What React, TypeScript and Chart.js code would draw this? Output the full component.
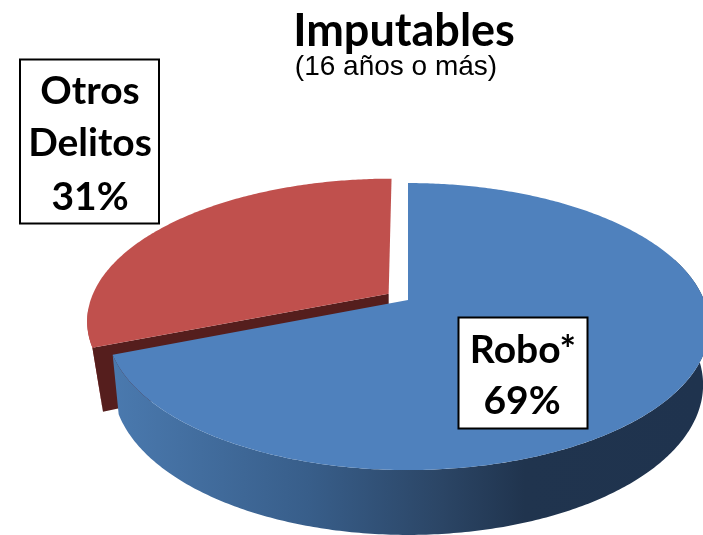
import React, { useEffect, useRef } from "react";
import { Chart, registerables } from "chart.js";

Chart.register(...registerables);

const categories = ["Robo*", "Otros Delitos"];
const shares = [69, 31];
const sliceColors = ["#4f81bd", "#c0504d"];
const titleText = "Imputables";
const subtitleText = "(16 años o más)";

const BOLD = '"Lato", sans-serif';
const SANS = '"Liberation Sans", Arial, sans-serif';

// Perspective view of the disc: top face and bottom face of the drum
const view = {
  cx: 408,
  p: 0.185,
  top: { y0: 300, a: 138.6, b: 296 },
  bottom: { y0: 357, a: 145, b: 290 },
  redTop: { y0: 300, a: 138.6, b: 298 },
  redBottom: { y0: 362, a: 145, b: 288 },
};

type Face = { y0: number; a: number; b: number };

function project(theta: number, r: number, face: Face, ou: number, ov: number) {
  const u = Math.sin(theta) * r + ou;
  const v = -Math.cos(theta) * r + ov;
  const w = 1 / (1 - view.p * v);
  return { x: view.cx + face.b * u * w, y: face.y0 + face.a * v * w };
}

const rad = (deg: number) => (deg * Math.PI) / 180;

const pie3d = {
  id: "pie3d",
  beforeDatasetsDraw(chart: any) {
    const { ctx } = chart;
    const arcs = chart.getDatasetMeta(0).data;
    const parts = arcs.map((arc: any) => {
      const s = arc.startAngle + Math.PI / 2;
      const e = arc.endAngle + Math.PI / 2;
      const mid = (s + e) / 2;
      const k = (arc.options.offset || 0) / arc.outerRadius;
      return { s, e, ou: Math.sin(mid) * k, ov: -Math.cos(mid) * k, color: arc.options.backgroundColor };
    });
    const edge = (from: number, to: number, face: Face, ou: number, ov: number) => {
      const n = Math.max(2, Math.round(Math.abs(to - from) * 90));
      const pts = [];
      for (let i = 0; i <= n; i++) pts.push(project(from + ((to - from) * i) / n, 1, face, ou, ov));
      return pts;
    };
    const fillPoly = (pts: { x: number; y: number }[], fill: any) => {
      ctx.beginPath();
      pts.forEach((q, i) => (i ? ctx.lineTo(q.x, q.y) : ctx.moveTo(q.x, q.y)));
      ctx.closePath();
      ctx.fillStyle = fill;
      ctx.fill();
    };
    ctx.save();
    const [blue, red] = parts;

    // Exploded slice first: outer wall sliver, cut face, top
    const redWallEnd = rad(264);
    fillPoly(
      [...edge(red.s, redWallEnd, view.redTop, red.ou, red.ov), project(red.s, 1, view.redBottom, red.ou, red.ov)],
      "#ab4543"
    );
    fillPoly(
      [
        project(0, 0, view.top, red.ou, red.ov),
        project(red.s, 1, view.redTop, red.ou, red.ov),
        project(red.s, 1, view.redBottom, red.ou, red.ov),
        project(0, 0, view.bottom, red.ou, red.ov),
      ],
      "#551e1d"
    );
    fillPoly([project(0, 0, view.top, red.ou, red.ov), ...edge(red.s, red.e, view.redTop, red.ou, red.ov)], red.color);

    // Main slice: wall with a left-to-right shade, then top
    const shade = ctx.createLinearGradient(115, 0, 700, 0);
    shade.addColorStop(0, "#4a79ae");
    shade.addColorStop(0.33, "#385e8a");
    shade.addColorStop(0.56, "#2b4565");
    shade.addColorStop(0.7, "#20344e");
    shade.addColorStop(1, "#1f334e");
    const blueWallStart = rad(72);
    fillPoly(
      [...edge(blueWallStart, blue.e, view.top, blue.ou, blue.ov), ...edge(blue.e, blueWallStart, view.bottom, blue.ou, blue.ov)],
      shade
    );
    fillPoly([project(0, 0, view.top, blue.ou, blue.ov), ...edge(blue.s, blue.e, view.top, blue.ou, blue.ov)], blue.color);
    ctx.restore();
    return false;
  },
  afterDraw(chart: any) {
    const { ctx } = chart;
    const box = (x: number, y: number, w: number, h: number) => {
      ctx.fillStyle = "#ffffff";
      ctx.strokeStyle = "#000000";
      ctx.lineWidth = 2;
      ctx.fillRect(x, y, w, h);
      ctx.strokeRect(x, y, w, h);
    };
    ctx.save();
    ctx.textAlign = "center";
    ctx.textBaseline = "middle";
    ctx.fillStyle = "#000000";
    ctx.font = `bold 45px ${BOLD}`;
    ctx.fillText(titleText, 404, 31);
    ctx.font = `28px ${SANS}`;
    ctx.fillText(subtitleText, 396, 67);

    box(20, 59.5, 139, 164);
    box(458.5, 317.5, 129, 111);

    ctx.fillStyle = "#000000";
    ctx.font = `bold 39px ${BOLD}`;
    const [robo, otros] = categories;
    const [first, second] = otros.split(" ");
    ctx.fillText(first, 90, 91);
    ctx.fillText(second, 90, 143);
    ctx.fillText(`${shares[1]}%`, 90, 197);
    ctx.fillText(robo, 523, 350);
    ctx.fillText(`${shares[0]}%`, 522, 401);
    ctx.restore();
  },
};

export default function App() {
  const ref = useRef<HTMLCanvasElement>(null);
  useEffect(() => {
    document.body.style.margin = "0";
    document.body.style.background = "#ffffff";
    const chart = new Chart(ref.current as HTMLCanvasElement, {
      type: "pie",
      data: {
        labels: categories,
        datasets: [
          {
            data: shares,
            backgroundColor: sliceColors,
            borderWidth: 0,
            offset: [0, 20.5],
          },
        ],
      },
      options: {
        responsive: false,
        animation: false,
        plugins: { legend: { display: false }, tooltip: { enabled: false } },
      },
      plugins: [pie3d],
    } as any);
    return () => chart.destroy();
  }, []);
  return (
    <div style={{ width: 703, height: 535, overflow: "hidden" }}>
      <canvas ref={ref} width={703} height={535} style={{ display: "block" }} />
    </div>
  );
}
